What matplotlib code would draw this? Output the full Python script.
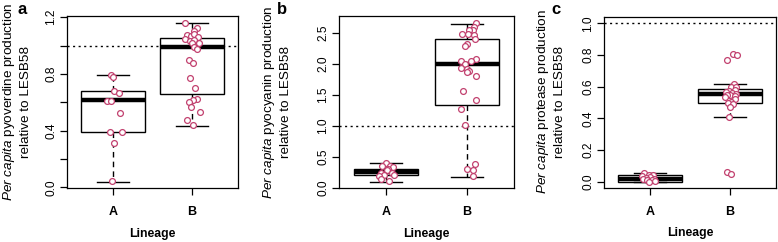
import numpy as np
import matplotlib
matplotlib.use("Agg")
import matplotlib.pyplot as plt

plt.rcParams['font.family'] = ['Liberation Sans', 'DejaVu Sans']
plt.rcParams['mathtext.fontset'] = 'custom'
plt.rcParams['mathtext.rm'] = 'Liberation Sans'
plt.rcParams['mathtext.it'] = 'Liberation Sans:italic'

lineages = ["A", "B"]

# box statistics: (whislo, q1, med, q3, whishi)
pyov_box = [(0.04, 0.39, 0.613, 0.681, 0.789), (0.434, 0.658, 0.99, 1.052, 1.158)]
pyoc_box = [(0.096, 0.204, 0.257, 0.30, 0.40), (0.177, 1.34, 1.99, 2.40, 2.64)]
prot_box = [(0.0, 0.0, 0.02, 0.042, 0.057), (0.41, 0.495, 0.552, 0.583, 0.615)]

# individual isolates (value, horizontal jitter)
pyov_A = [0.79, 0.775, 0.683, 0.665, 0.61, 0.61, 0.524, 0.394, 0.394, 0.313, 0.042]
pyov_A_jit = [-0.02, 0.0, 0.01, 0.08, -0.08, -0.02, 0.09, -0.04, 0.11, 0.01, -0.01]
pyov_B = [1.162, 1.122, 1.099, 1.075, 1.068, 1.082, 1.063, 1.045, 1.035, 1.04, 1.017, 1.021,
          0.989, 0.977, 0.899, 0.876, 0.770, 0.70, 0.622, 0.613, 0.599, 0.570, 0.531, 0.477, 0.441]
pyov_B_jit = [-0.09, 0.06, 0.03, -0.07, -0.02, 0.02, 0.08, -0.09, -0.03, 0.03, 0.09, 0.0,
              0.03, 0.06, -0.04, 0.01, -0.03, 0.04, 0.06, 0.01, -0.04, -0.01, 0.1, -0.07, 0.01]

pyoc_A = [0.40, 0.35, 0.35, 0.33, 0.30, 0.28, 0.24, 0.24, 0.20, 0.20, 0.19, 0.14, 0.10]
pyoc_A_jit = [0.0, -0.05, 0.05, 0.09, 0.03, 0.01, -0.06, 0.07, -0.02, 0.1, -0.09, -0.06, 0.04]
pyoc_B = [2.65, 2.59, 2.535, 2.55, 2.48, 2.47, 2.455, 2.40, 2.32, 2.28, 2.08, 2.05, 2.04, 2.0,
          1.935, 1.92, 1.88, 1.86, 1.80, 1.555, 1.41, 1.265, 1.008, 0.38, 0.295, 0.285, 0.19]
pyoc_B_jit = [0.11, 0.09, 0.08, 0.02, -0.06, 0.01, 0.09, 0.1, 0.0, -0.02, 0.11, -0.08, 0.05, -0.03,
              -0.08, 0.0, 0.02, 0.0, 0.11, -0.05, 0.11, -0.07, -0.03, 0.1, 0.0, 0.07, 0.07]

prot_A = [0.055, 0.045, 0.04, 0.035, 0.03, 0.025, 0.02, 0.018, 0.012, 0.008, 0.004, 0.0]
prot_A_jit = [-0.08, -0.02, 0.03, -0.1, 0.0, -0.05, 0.05, -0.09, 0.02, -0.04, 0.06, -0.01]
prot_B = [0.806, 0.802, 0.768, 0.617, 0.60, 0.596, 0.574, 0.579, 0.565, 0.56, 0.555, 0.55,
          0.547, 0.541, 0.535, 0.52, 0.505, 0.499, 0.489, 0.473, 0.41, 0.063, 0.049]
prot_B_jit = [0.04, 0.09, -0.04, 0.05, 0.02, 0.08, -0.01, 0.06, -0.05, 0.03, 0.08, 0.0,
              -0.03, 0.06, -0.06, 0.07, 0.02, -0.02, 0.04, 0.0, -0.01, -0.04, 0.01]

W, H = 778, 242
fig = plt.figure(figsize=(W / 100, H / 100), dpi=100)
pt_col = '#c2416f'


def px_axes(left, top, right, bottom):
    return fig.add_axes([left / W, 1 - bottom / H, (right - left) / W, (bottom - top) / H])


def draw_panel(ax, box, pts, jits, ylim, yticks, ylabels, name, x1, x2):
    stats = []
    for b in box:
        stats.append(dict(whislo=b[0], q1=b[1], med=b[2], q3=b[3], whishi=b[4], fliers=[]))
    ax.bxp(stats, positions=[1, 2], widths=0.8, capwidths=0.4, showfliers=False,
           patch_artist=True,
           boxprops=dict(facecolor='white', edgecolor='black', linewidth=1.0),
           medianprops=dict(color='black', linewidth=3.2, solid_capstyle='butt'),
           whiskerprops=dict(color='black', linewidth=1.0, linestyle=(0, (4, 3))),
           capprops=dict(color='black', linewidth=1.0))
    ax.axhline(1.0, color='black', linewidth=1.0, linestyle=(0, (1.5, 2.5)), zorder=1)
    for i, (vals, jit) in enumerate(zip(pts, jits)):
        ax.plot(np.array(jit) + i + 1, vals, 'o', ms=4.2, mfc='white', mec=pt_col, mew=0.9,
                zorder=5)
    ax.set_xlim(0.42, 2.58)
    ax.set_ylim(*ylim)
    ax.set_xticks([1, 2])
    ax.set_xticklabels(lineages, fontsize=9, fontweight='bold')
    ax.set_yticks(yticks)
    ax.set_yticklabels(ylabels, fontsize=8.6, rotation=90, va='center')
    ax.tick_params(axis='x', length=5, pad=8, width=0.9)
    ax.tick_params(axis='y', length=5, pad=2, width=0.9)
    for s in ax.spines.values():
        s.set_linewidth(0.9)
    ax.set_xlabel("Lineage", fontsize=8.8, fontweight='bold')
    ax.xaxis.set_label_coords(0.5, -0.265)
    ax.xaxis.label.set_va('center')
    # two-line y label, each line placed on its own
    yc = 1 - 102 / H
    fig.text(x1 / W, yc, "$\\it{Per\\ capita}$ " + name + " production", rotation=90,
             fontsize=9.7, ha='center', va='center')
    fig.text(x2 / W, yc, "relative to LESB58", rotation=90,
             fontsize=9.7, ha='center', va='center')


ax1 = px_axes(67, 16, 238, 188)
draw_panel(ax1, pyov_box, [pyov_A, pyov_B], [pyov_A_jit, pyov_B_jit], (-0.004, 1.208),
           [0, 0.2, 0.4, 0.6, 0.8, 1.0, 1.2], ["0.0", "", "0.4", "", "0.8", "", "1.2"],
           "pyoverdine", 9, 26)

ax2 = px_axes(339, 16, 514, 188)
draw_panel(ax2, pyoc_box, [pyoc_A, pyoc_B], [pyoc_A_jit, pyoc_B_jit], (-0.005, 2.768),
           [0, 0.5, 1.0, 1.5, 2.0, 2.5], ["0.0", "0.5", "1.0", "1.5", "2.0", "2.5"],
           "pyocyanin", 269, 286)

ax3 = px_axes(604, 17, 776, 188)
draw_panel(ax3, prot_box, [prot_A, prot_B], [prot_A_jit, prot_B_jit], (-0.04, 1.04),
           [0, 0.2, 0.4, 0.6, 0.8, 1.0], ["0.0", "0.2", "0.4", "0.6", "0.8", "1.0"],
           "protease", 543, 560)

for lbl, x in [("a", 22), ("b", 282), ("c", 556)]:
    fig.text(x / W, 1 - 9 / H, lbl, fontsize=12, fontweight='bold', ha='center', va='center')

fig.savefig("out.png", dpi=100)
